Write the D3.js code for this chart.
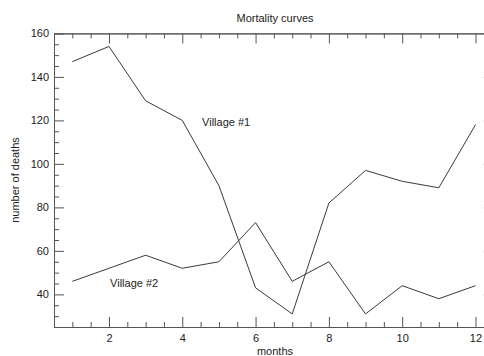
<!DOCTYPE html>
<html>
<head>
<meta charset="utf-8">
<script src="https://cdn.jsdelivr.net/npm/d3@7"></script>
<style>
  html, body { margin: 0; padding: 0; background: #fff; }
  svg { display: block; font-family: "Liberation Sans", Arial, Helvetica, sans-serif; }
</style>
</head>
<body>
<svg id="chart" width="484" height="356"></svg>
<script>
// Monthly death counts for two villages
const months = [1, 2, 3, 4, 5, 6, 7, 8, 9, 10, 11, 12];
const village1 = [147, 154, 129, 120, 90, 43, 31, 82, 97, 92, 89, 118];
const village2 = [46, 52, 58, 52, 55, 73, 46, 55, 31, 44, 38, 44];
const xMajorTicks = [2, 4, 6, 8, 10, 12];
const yMajorTicks = [40, 60, 80, 100, 120, 140, 160];
// Series annotations, placed in data coordinates (start of text, baseline)
const seriesLabels = [
  { text: "Village #1", month: 4.54, value: 117.5 },
  { text: "Village #2", month: 2.03, value: 43.6 }
];

const svg = d3.select("#chart");
const plotLeft = 54, plotRight = 493.8, plotTop = 33.4, plotBottom = 327;

const x = d3.scaleLinear().domain([0.5, 12.5]).range([plotLeft, plotRight]);
const y = d3.scaleLinear().domain([25, 160]).range([plotBottom, plotTop]);

const xMinor = d3.range(0.5, 12.51, 0.5).filter(v => !xMajorTicks.includes(v));
const yMinor = d3.range(25, 160.01, 5).filter(v => !yMajorTicks.includes(v));

const axisColor = "#555";
const lineColor = "#3a3a3a";

function styleAxis(g) {
  g.selectAll("path.domain").attr("stroke", axisColor).attr("stroke-width", 1);
  g.selectAll(".tick line").attr("stroke", axisColor).attr("stroke-width", 1);
  g.selectAll(".tick text").attr("fill", "#222").attr("font-size", "11px")
    .attr("font-family", "Liberation Sans, Arial, Helvetica, sans-serif");
}

// Bottom axis: labelled majors, unlabelled minors, ticks pointing inward
svg.append("g").attr("transform", `translate(0,${plotBottom})`)
  .call(d3.axisBottom(x).tickValues(xMinor).tickSizeInner(-5).tickSizeOuter(0).tickFormat(""))
  .call(styleAxis);
svg.append("g").attr("transform", `translate(0,${plotBottom})`)
  .call(d3.axisBottom(x).tickValues(xMajorTicks).tickSizeInner(-10).tickSizeOuter(0).tickPadding(7).tickFormat(d3.format("d")))
  .call(styleAxis);

// Top axis: ticks only
svg.append("g").attr("transform", `translate(0,${plotTop})`)
  .call(d3.axisTop(x).tickValues(xMinor).tickSizeInner(-5).tickSizeOuter(0).tickFormat(""))
  .call(styleAxis);
svg.append("g").attr("transform", `translate(0,${plotTop})`)
  .call(d3.axisTop(x).tickValues(xMajorTicks).tickSizeInner(-10).tickSizeOuter(0).tickFormat(""))
  .call(styleAxis);

// Left axis
svg.append("g").attr("transform", `translate(${plotLeft},0)`)
  .call(d3.axisLeft(y).tickValues(yMinor).tickSizeInner(-5).tickSizeOuter(0).tickFormat(""))
  .call(styleAxis);
svg.append("g").attr("transform", `translate(${plotLeft},0)`)
  .call(d3.axisLeft(y).tickValues(yMajorTicks).tickSizeInner(-10).tickSizeOuter(0).tickPadding(5).tickFormat(d3.format("d")))
  .call(styleAxis);

// Right axis: ticks only
svg.append("g").attr("transform", `translate(${plotRight},0)`)
  .call(d3.axisRight(y).tickValues(yMinor).tickSizeInner(-5).tickSizeOuter(0).tickFormat(""))
  .call(styleAxis);
svg.append("g").attr("transform", `translate(${plotRight},0)`)
  .call(d3.axisRight(y).tickValues(yMajorTicks).tickSizeInner(-10).tickSizeOuter(0).tickFormat(""))
  .call(styleAxis);

// Series lines
const line = d3.line().x((d, i) => x(months[i])).y(d => y(d));
[village1, village2].forEach(series => {
  svg.append("path")
    .datum(series)
    .attr("fill", "none")
    .attr("stroke", lineColor)
    .attr("stroke-width", 1)
    .attr("d", line);
});

// In-plot series labels
svg.selectAll("text.series-label")
  .data(seriesLabels)
  .enter().append("text")
  .attr("class", "series-label")
  .attr("x", d => x(d.month))
  .attr("y", d => y(d.value))
  .attr("font-size", "11px")
  .attr("fill", "#222")
  .text(d => d.text);

// Title and axis titles
svg.append("text")
  .attr("x", 275).attr("y", 22)
  .attr("text-anchor", "middle")
  .attr("font-size", "11px").attr("fill", "#222")
  .text("Mortality curves");

svg.append("text")
  .attr("x", 275).attr("y", 355)
  .attr("text-anchor", "middle")
  .attr("font-size", "11px").attr("fill", "#222")
  .text("months");

svg.append("text")
  .attr("transform", `translate(19,180) rotate(-90)`)
  .attr("text-anchor", "middle")
  .attr("font-size", "11px").attr("fill", "#222")
  .text("number of deaths");
</script>
</body>
</html>
